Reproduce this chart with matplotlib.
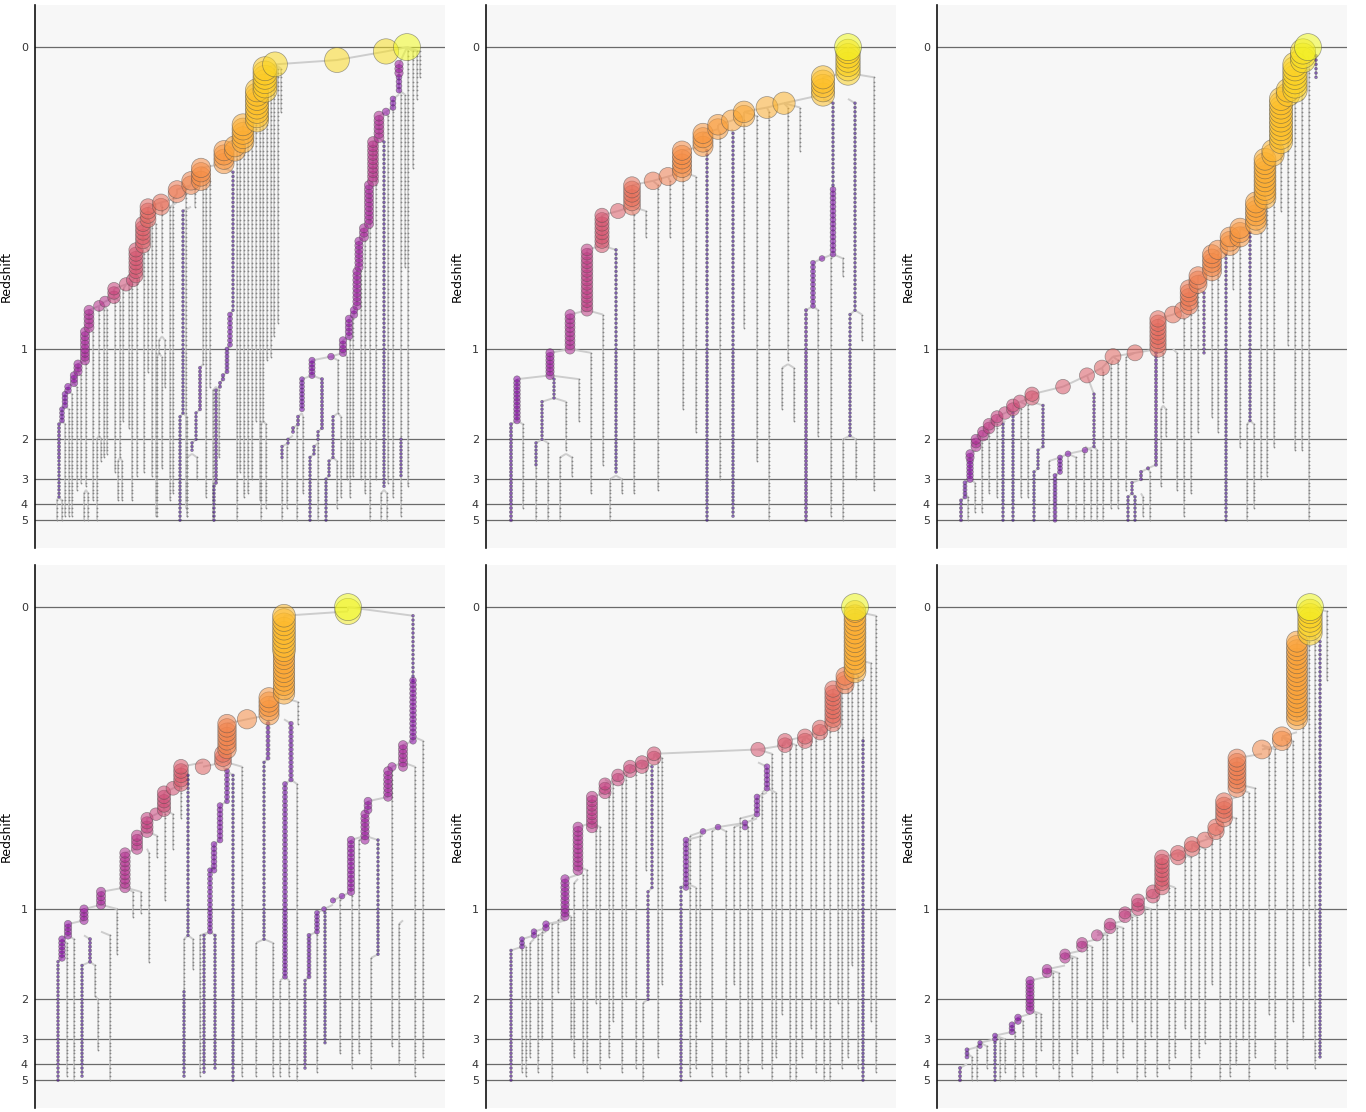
"""
Six halo merger trees: branches placed by lookback time, coloured and sized by mass.
"""
import numpy as np
import matplotlib
matplotlib.use('Agg')
import matplotlib.pyplot as plt
from matplotlib.collections import LineCollection

# ── redshift axis ──
z_ticks = [0, 1, 2, 3, 4, 5]
z_tick_lookback = [0.0, 8.03, 10.43, 11.49, 12.15, 12.58]   # Gyr
snaps_per_interval = [70, 24, 11, 7, 4]

# coloured branches: (x, top, bottom, log mass, x of descendant[, lookback of descendant])
# gray branches:     (x, top, bottom, x of descendant)

# ── panel 1 ──
p1_main = [
    (24, 11.0, 12.0, 9.85, 24), (24, 10.0, 10.9, 10.0, 27), (27, 9.6, 9.9, 10.2, 30),
    (30, 9.2, 9.5, 10.3, 33), (33, 9.05, 9.1, 10.4, 39), (39, 8.7, 8.95, 10.5, 43),
    (43, 8.4, 8.6, 10.6, 50), (50, 7.6, 8.3, 10.7, 54), (54, 7.0, 7.5, 10.8, 64),
    (64, 6.9, 6.9, 10.9, 70), (70, 6.8, 6.8, 10.9, 79), (79, 6.4, 6.7, 11.1, 91),
    (91, 6.3, 6.3, 11.2, 98), (98, 6.2, 6.2, 11.2, 101), (101, 5.4, 6.1, 11.3, 108),
    (108, 4.65, 5.3, 11.4, 113), (113, 4.3, 4.55, 11.5, 126), (126, 4.1, 4.2, 11.6, 142),
    (142, 3.75, 3.95, 11.7, 156), (156, 3.6, 3.65, 11.8, 166), (166, 3.2, 3.5, 11.9, 189),
    (189, 2.8, 3.1, 12.0, 200), (200, 2.6, 2.7, 12.1, 208), (208, 2.1, 2.5, 12.2, 222),
    (222, 1.2, 2.0, 12.35, 230), (230, 0.6, 1.1, 12.45, 240),
    (240, 0.43, 0.5, 12.55, 302, 0.3), (302, 0.3, 0.3, 12.55, 351, 0.17),
    (351, 0.17, 0.17, 12.6, 372, 0.0), (372, 0.0, 0.0, 13.0, None),
    (364, 0.43, 0.7, 10.6, 372, 0.0), (364, 0.8, 1.2, 10.3, 364), (358, 1.35, 1.65, 10.3, 364),
    (351, 1.75, 1.75, 10.5, 358), (344, 1.85, 2.45, 10.8, 351), (338, 2.55, 3.6, 10.9, 344),
    (334, 3.7, 4.75, 10.7, 338), (329, 4.85, 5.05, 10.7, 334), (324, 5.2, 5.85, 10.6, 329),
    (322, 5.95, 6.9, 10.6, 324), (319, 7.0, 7.1, 10.5, 322), (314, 7.2, 7.65, 10.5, 319),
    (308, 7.75, 8.1, 10.5, 314), (296, 8.2, 8.2, 10.4, 308), (277, 8.3, 8.75, 10.35, 296),
    (267, 8.85, 9.65, 10.2, 277), (263, 9.8, 10.0, 10.0, 267), (258, 10.15, 10.25, 10.0, 263),
    (253, 10.4, 10.5, 9.9, 258), (247, 10.6, 10.9, 9.9, 253),
    (287, 8.85, 10.1, 10.0, 277), (283, 10.25, 10.45, 9.9, 287), (279, 10.6, 10.85, 9.85, 283),
    (275, 10.95, 12.58, 9.8, 279), (298, 9.8, 10.95, 9.9, 303), (294, 11.05, 11.4, 9.85, 298),
    (291, 11.5, 12.58, 9.8, 294), (349, 2.55, 11.7, 9.8, 344), (366, 10.4, 11.4, 9.85, 366),
    (198, 3.3, 7.0, 9.85, 189), (195, 7.1, 7.9, 10.2, 198), (192, 8.0, 8.6, 10.1, 195),
    (188, 8.7, 8.8, 10.05, 192), (185, 8.9, 9.0, 10.0, 188), (181, 9.15, 11.55, 10.0, 185),
    (179, 11.65, 12.58, 9.85, 181), (148, 4.35, 9.7, 9.8, 156), (145, 9.85, 12.58, 9.8, 148),
    (165, 8.5, 9.6, 10.0, 168), (161, 9.75, 10.45, 9.9, 165), (157, 10.55, 10.75, 9.85, 161),
]
p1_gray = [
    (21.5, 12.1, 12.58, 24), (26.5, 12.1, 12.58, 24), (30, 10.0, 12.45, 27), (33.5, 9.6, 12.45, 30),
    (37, 9.2, 12.45, 33), (41.5, 9.0, 11.8, 39), (45.5, 8.75, 11.6, 43), (51, 8.45, 11.7, 50),
    (49, 11.85, 12.58, 51), (53, 11.85, 12.58, 51), (58, 7.6, 12.1, 54), (64, 7.05, 10.3, 64),
    (61.5, 10.45, 12.58, 64), (66.5, 10.45, 11.0, 64), (69, 7.0, 10.9, 70), (72.5, 6.95, 10.8, 70),
    (80, 6.8, 11.25, 79), (85, 6.8, 10.9, 79), (83, 11.05, 12.1, 85), (87, 11.05, 12.1, 85),
    (88.5, 6.45, 9.9, 91), (93.5, 6.35, 10.1, 98), (97, 6.3, 12.1, 98), (102, 6.2, 11.35, 101),
    (109, 5.45, 11.25, 108), (113, 5.35, 8.6, 108), (117, 4.7, 11.35, 113), (121, 4.65, 12.45, 113),
    (127, 4.3, 7.6, 126), (124, 7.75, 8.1, 127), (130, 7.75, 9.0, 127), (122, 8.25, 12.45, 124),
    (126.5, 8.25, 11.2, 124), (135, 4.3, 12.1, 142), (138.5, 4.05, 11.9, 142), (151.5, 3.8, 12.3, 156),
    (152, 9.85, 12.5, 148), (160, 3.7, 4.3, 156), (168, 3.6, 8.4, 166), (152, 10.9, 12.45, 157),
    (162, 10.9, 11.5, 157), (171.5, 3.5, 12.0, 166), (175, 3.55, 9.0, 166), (178, 9.15, 12.58, 181),
    (184, 9.15, 10.9, 181), (202, 2.8, 12.58, 200), (205, 2.75, 11.3, 208), (209, 2.6, 12.0, 208),
    (213, 2.1, 11.9, 208), (217, 2.05, 11.5, 222), (221, 2.05, 9.9, 222), (225, 1.9, 12.1, 222),
    (228, 1.2, 9.9, 230), (232, 1.15, 8.3, 230), (236, 1.1, 8.2, 240), (239, 0.6, 7.7, 240),
    (243, 0.55, 7.3, 240), (246, 0.55, 1.7, 240), (226, 10.05, 12.58, 228), (231, 10.05, 12.3, 228),
    (247, 11.0, 12.58, 247), (252, 10.6, 12.3, 253), (262, 10.15, 12.58, 263), (268, 9.8, 11.9, 267),
    (283, 10.55, 12.58, 283), (303, 8.3, 9.7, 296), (302, 11.05, 12.3, 298), (306, 9.8, 12.0, 303),
    (312, 8.2, 11.5, 308), (315, 7.8, 12.0, 314), (318, 7.2, 11.35, 319), (326, 5.95, 11.5, 324),
    (330, 5.2, 11.85, 329), (335, 3.85, 12.58, 334), (341, 2.55, 11.5, 344), (346, 11.85, 12.58, 349),
    (352, 11.85, 12.58, 349), (353, 1.85, 11.6, 351), (358, 1.75, 12.0, 358), (366, 1.3, 10.3, 364),
    (366, 11.5, 12.45, 366), (370, 1.3, 5.9, 364), (373, 0.1, 11.7, 372), (378, 0.1, 3.2, 372),
    (382, 0.1, 1.35, 372), (385, 0.1, 0.8, 372),
]

# ── panel 2 ──
p2_main = [
    (25, 10.0, 12.58, 10.0, 31), (31, 8.85, 9.95, 10.4, 64, 8.75), (64, 8.1, 8.75, 10.6, 84),
    (84, 7.1, 8.0, 10.8, 101), (101, 5.4, 7.0, 11.0, 116), (116, 4.5, 5.3, 11.3, 132),
    (132, 4.4, 4.4, 11.4, 146), (146, 3.7, 4.3, 11.6, 167), (167, 3.6, 3.6, 11.7, 182),
    (182, 3.47, 3.47, 11.75, 196), (196, 2.7, 3.35, 11.9, 217), (217, 2.3, 2.6, 12.0, 232),
    (232, 2.1, 2.2, 12.05, 246), (246, 1.95, 1.95, 12.1, 258), (258, 1.7, 1.85, 12.15, 281),
    (281, 1.57, 1.57, 12.2, 298), (298, 1.47, 1.47, 12.25, 337, 1.3), (337, 0.8, 1.3, 12.35, 362),
    (362, 0.1, 0.7, 12.5, 362), (362, 0.0, 0.0, 13.0, None),
    (347, 1.5, 3.7, 9.8, 337), (347, 3.8, 5.5, 10.3, 347), (336, 5.6, 5.6, 10.3, 347),
    (327, 5.7, 6.9, 10.2, 336), (320, 7.0, 12.58, 10.0, 327), (369, 1.5, 7.0, 9.8, 362),
    (364, 7.15, 10.3, 9.8, 369), (221, 2.8, 12.58, 9.8, 217), (247, 2.3, 12.45, 9.8, 246),
    (130, 5.4, 11.3, 9.8, 116), (68, 8.8, 9.3, 9.9, 64), (56, 9.4, 10.45, 9.9, 68),
    (50, 10.55, 11.1, 9.85, 56),
]
p2_gray = [
    (37, 10.0, 12.3, 31), (50, 11.2, 12.58, 50), (62, 10.55, 12.58, 56), (80, 9.4, 10.75, 68),
    (74, 10.9, 12.58, 80), (86, 10.9, 11.35, 80), (93, 8.85, 9.9, 64), (105, 8.1, 11.9, 84),
    (117, 7.1, 11.1, 101), (124, 11.45, 12.58, 130), (136, 11.45, 11.9, 130), (148, 4.5, 11.9, 146),
    (160, 4.4, 5.1, 146), (172, 3.7, 11.8, 167), (184, 3.6, 5.1, 182), (197, 3.45, 9.65, 196),
    (210, 3.45, 10.2, 196), (234, 2.3, 11.5, 232), (258, 2.0, 7.5, 258), (271, 1.8, 11.0, 258),
    (283, 1.7, 12.58, 281), (302, 1.57, 8.35, 298), (296, 8.5, 9.65, 302), (308, 8.5, 9.9, 302),
    (314, 1.6, 2.8, 298), (345, 5.6, 12.45, 347), (357, 5.6, 6.1, 347), (332, 7.0, 10.3, 327),
    (376, 7.15, 7.75, 369), (357, 10.45, 12.58, 364), (370, 10.45, 11.5, 364), (388, 0.8, 11.74, 362),
]

# ── panel 3 ──
p3_main = [
    (24, 12.1, 12.58, 10.0, 28), (28, 11.6, 12.0, 10.1, 33), (33, 11.0, 11.5, 10.4, 33),
    (33, 10.8, 10.9, 10.6, 39), (39, 10.4, 10.65, 10.8, 46), (46, 10.25, 10.3, 10.9, 52),
    (52, 10.0, 10.1, 11.0, 60), (60, 9.85, 9.9, 11.05, 68), (68, 9.7, 9.75, 11.1, 76),
    (76, 9.55, 9.6, 11.15, 83), (83, 9.45, 9.45, 11.2, 95), (95, 9.2, 9.3, 11.3, 126, 9.0),
    (126, 9.0, 9.0, 11.35, 150, 8.75), (150, 8.75, 8.75, 11.4, 165, 8.5),
    (165, 8.5, 8.5, 11.45, 176, 8.27), (176, 8.27, 8.27, 11.5, 198, 8.13),
    (198, 8.13, 8.13, 11.5, 221, 8.0), (221, 7.2, 8.0, 11.55, 236), (236, 7.1, 7.1, 11.6, 246),
    (246, 7.0, 7.0, 11.65, 252), (252, 6.45, 6.9, 11.7, 261), (261, 6.1, 6.35, 11.75, 275),
    (275, 5.5, 5.95, 11.85, 281), (281, 5.37, 5.4, 11.9, 293), (293, 5.1, 5.25, 11.95, 303),
    (303, 4.85, 5.0, 12.0, 319), (319, 4.1, 4.75, 12.1, 328), (328, 3.0, 4.0, 12.2, 336),
    (336, 2.7, 2.9, 12.25, 344), (344, 1.35, 2.55, 12.35, 351), (351, 1.2, 1.25, 12.4, 358),
    (358, 0.45, 1.1, 12.5, 366), (366, 0.12, 0.35, 12.6, 371), (371, 0.0, 0.0, 13.0, None),
    (379, 0.25, 0.8, 9.85, 371), (267, 6.5, 8.1, 9.9, 261), (219, 8.1, 11.1, 10.0, 221),
    (211, 11.2, 11.2, 10.0, 219), (204, 11.3, 11.5, 10.0, 211), (195, 11.6, 11.9, 9.95, 204),
    (191, 12.0, 12.58, 9.85, 195), (198, 12.0, 12.58, 9.8, 195),
    (157, 9.2, 10.6, 9.95, 150, 8.75), (148, 10.7, 10.7, 10.3, 157), (131, 10.85, 10.85, 10.3, 148),
    (123, 10.95, 11.25, 10.2, 131), (118, 11.35, 12.58, 10.1, 123), (106, 9.5, 10.6, 9.85, 95),
    (101, 10.7, 11.2, 9.85, 106), (97, 11.3, 12.58, 9.8, 101), (66, 10.0, 12.58, 9.8, 68),
    (76, 9.7, 12.58, 9.8, 76), (313, 4.9, 9.9, 9.8, 303), (289, 5.45, 12.58, 9.8, 281),
]
p3_gray = [
    (31, 12.0, 12.58, 28), (38, 11.6, 12.4, 33), (45, 10.45, 12.4, 39), (52, 10.25, 11.9, 46),
    (60, 10.0, 12.0, 52), (84, 9.65, 12.0, 83), (91, 9.5, 12.0, 83), (112, 11.0, 12.58, 123),
    (131, 11.0, 12.58, 131), (139, 10.9, 12.58, 131), (147, 10.8, 12.58, 148), (154, 10.75, 12.58, 148),
    (160, 10.7, 12.58, 157), (166, 8.6, 12.58, 165), (174, 8.4, 12.3, 176), (181, 8.35, 12.3, 176),
    (189, 8.2, 11.8, 198), (206, 12.0, 12.45, 204), (213, 11.3, 12.58, 211), (226, 8.1, 9.45, 221),
    (224, 9.6, 11.7, 226), (229, 9.6, 10.3, 226), (240, 8.1, 11.8, 236), (247, 7.2, 12.5, 246),
    (254, 7.0, 11.9, 252), (261, 6.45, 10.2, 252), (275, 6.05, 9.8, 275), (281, 5.5, 10.2, 281),
    (296, 5.3, 6.4, 293), (303, 5.1, 10.6, 303), (310, 10.0, 12.58, 313), (317, 10.0, 12.3, 313),
    (324, 4.9, 11.5, 319), (330, 4.1, 11.35, 328), (337, 3.1, 10.6, 336), (344, 2.7, 4.4, 344),
    (351, 1.3, 7.9, 351), (358, 1.2, 10.7, 358), (365, 1.15, 10.7, 358), (372, 0.3, 12.58, 371),
]

# ── panel 4 ──
p4_main = [
    (23, 9.45, 12.55, 9.95, 27), (27, 8.8, 9.35, 10.4, 33), (33, 8.4, 8.7, 10.5, 49),
    (49, 8.0, 8.3, 10.6, 66), (66, 7.6, 7.9, 10.7, 90), (90, 6.5, 7.5, 10.85, 102),
    (102, 6.1, 6.4, 10.95, 112), (112, 5.6, 6.0, 11.05, 121), (121, 5.47, 5.47, 11.1, 129),
    (129, 4.9, 5.35, 11.2, 138), (138, 4.8, 4.8, 11.25, 146), (146, 4.3, 4.7, 11.35, 168),
    (168, 4.24, 4.24, 11.45, 188), (188, 3.86, 4.15, 11.6, 192), (192, 3.1, 3.75, 11.8, 212),
    (212, 2.97, 2.97, 11.9, 234), (234, 2.45, 2.85, 12.0, 249), (249, 1.3, 2.35, 12.15, 249),
    (249, 0.2, 1.2, 12.3, 313, 0.1), (313, 0.1, 0.1, 12.7, 313), (313, 0.0, 0.0, 13.0, None),
    (378, 0.25, 1.9, 9.9, 313, 0.0), (378, 2.0, 3.55, 10.4, 378), (368, 3.65, 4.2, 10.7, 378),
    (357, 4.3, 4.3, 10.6, 368), (353, 4.4, 5.1, 10.65, 357), (333, 5.2, 5.35, 10.55, 353),
    (330, 5.45, 6.15, 10.6, 333), (316, 6.25, 7.6, 10.5, 330), (307, 7.72, 7.72, 10.3, 316),
    (298, 7.85, 7.85, 10.25, 307), (289, 8.0, 8.0, 10.2, 298), (282, 8.1, 8.6, 10.2, 289),
    (274, 8.7, 9.8, 10.1, 282), (270, 9.9, 12.25, 9.9, 274),
    (192, 4.35, 5.15, 10.2, 188), (185, 5.25, 6.2, 10.3, 192), (179, 6.3, 7.0, 10.3, 185),
    (175, 7.05, 8.6, 10.2, 179), (169, 8.7, 12.35, 9.85, 175), (180, 8.75, 12.25, 9.85, 175),
    (198, 4.45, 12.55, 9.8, 192), (153, 4.45, 8.7, 9.8, 146), (149, 10.2, 12.5, 9.8, 149),
    (233, 3.1, 4.05, 10.1, 234), (229, 4.1, 8.8, 9.8, 233), (256, 3.1, 4.6, 10.15, 249),
    (250, 4.65, 9.85, 10.2, 256), (55, 8.8, 9.4, 10.0, 49), (47, 9.5, 12.5, 9.85, 55),
    (343, 6.15, 9.2, 9.8, 330), (290, 8.15, 11.6, 9.8, 289),
]
p4_gray = [
    (32, 8.95, 12.45, 27), (39, 8.8, 12.55, 33), (60, 9.5, 10.3, 55), (63, 10.4, 11.8, 60),
    (75, 8.75, 12.55, 66), (82.5, 8.0, 9.25, 66), (98, 7.55, 8.2, 90), (106, 7.55, 8.1, 90),
    (114, 6.55, 9.4, 112), (122, 6.1, 6.7, 112), (130, 5.45, 7.8, 129), (138, 5.45, 6.4, 129),
    (146, 4.85, 5.6, 146), (149, 8.8, 10.1, 153), (158, 8.8, 9.6, 153), (165, 8.7, 12.45, 175),
    (207, 4.25, 12.45, 192), (221, 8.9, 12.45, 229), (238, 8.9, 12.45, 229), (262, 4.65, 12.55, 256),
    (263, 2.5, 3.05, 249), (245, 9.95, 12.5, 250), (254, 9.95, 12.5, 250), (305, 7.85, 11.9, 307),
    (317, 7.7, 12.3, 316), (324, 6.25, 11.9, 330), (336, 9.3, 12.3, 343), (357, 4.4, 11.7, 357),
    (364, 8.4, 12.2, 368), (380, 4.3, 12.45, 368), (388, 3.6, 12.0, 378), (282, 8.7, 12.4, 282),
]

# ── panel 5 ──
p5_main = [
    (25, 9.1, 12.55, 9.95, 36), (36, 8.8, 9.0, 10.2, 48), (48, 8.6, 8.7, 10.3, 60),
    (60, 8.4, 8.5, 10.4, 79), (79, 7.2, 8.2, 10.6, 92), (92, 5.9, 7.0, 10.8, 106),
    (106, 5.0, 5.8, 10.95, 119), (119, 4.7, 4.9, 11.05, 132), (132, 4.5, 4.6, 11.1, 144),
    (144, 4.3, 4.4, 11.15, 156), (156, 4.1, 4.2, 11.2, 168), (168, 3.9, 4.0, 11.25, 272, 3.75),
    (272, 3.75, 3.75, 11.3, 299), (299, 3.6, 3.65, 11.35, 319), (319, 3.43, 3.5, 11.4, 334),
    (334, 3.2, 3.3, 11.45, 347), (347, 2.2, 3.1, 11.55, 359), (359, 1.8, 2.1, 11.75, 369),
    (369, 0.1, 1.7, 12.2, 369), (369, 0.0, 0.0, 13.0, None),
    (281, 4.2, 4.85, 10.3, 272), (271, 5.0, 5.5, 10.3, 281), (259, 5.7, 5.8, 10.3, 271),
    (232, 5.9, 5.9, 10.3, 259), (217, 6.0, 6.0, 10.3, 232), (200, 6.2, 7.4, 10.3, 217),
    (195, 7.5, 12.55, 9.85, 200), (166, 4.3, 7.5, 9.9, 156), (162, 7.6, 10.4, 9.9, 166),
    (377, 3.6, 12.55, 9.8, 377),
]
p5_gray = [
    (36, 9.1, 12.4, 36), (40, 9.0, 12.5, 36), (44, 8.9, 12.0, 48), (52, 8.7, 12.4, 60),
    (56, 8.6, 11.5, 60), (66, 8.4, 12.55, 79), (72, 8.3, 10.2, 79), (85, 8.2, 11.5, 79),
    (88, 7.3, 12.0, 92), (97, 7.1, 12.2, 92), (101, 7.0, 12.4, 92), (110, 5.9, 10.5, 106),
    (114, 5.9, 12.3, 106), (123, 4.95, 12.0, 119), (127, 4.75, 11.0, 119), (136, 4.65, 12.4, 132),
    (140, 4.5, 10.3, 144), (150, 4.4, 12.3, 144), (157, 10.5, 12.55, 162), (160, 4.3, 7.0, 156),
    (172, 4.0, 12.0, 168), (176, 4.05, 10.0, 168), (204, 6.1, 12.5, 217), (210, 7.5, 12.3, 200),
    (214, 6.05, 11.0, 217), (226, 5.95, 12.5, 232), (240, 6.0, 12.5, 232), (248, 5.85, 10.0, 259),
    (254, 5.6, 12.55, 271), (262, 5.9, 12.4, 259), (266, 5.6, 11.5, 271), (276, 4.9, 12.3, 281),
    (286, 3.85, 12.55, 272), (290, 4.9, 12.0, 281), (296, 3.7, 10.8, 299), (304, 3.7, 12.55, 299),
    (310, 3.7, 12.55, 299), (316, 3.55, 12.0, 319), (325, 3.55, 11.2, 319), (330, 3.4, 12.4, 334),
    (338, 3.35, 12.55, 334), (344, 3.2, 12.55, 347), (352, 3.2, 10.5, 347), (356, 2.2, 12.3, 359),
    (362, 2.2, 12.0, 359), (366, 1.8, 9.5, 369), (372, 1.8, 12.3, 369), (377, 1.9, 3.5, 359),
    (385, 1.5, 11.0, 369), (390, 0.2, 12.4, 369),
]

# ── panel 6 ──
p6_main = [
    (23, 12.3, 12.55, 10.0, 30), (30, 11.8, 12.0, 10.1, 43), (43, 11.6, 11.65, 10.15, 58),
    (58, 11.4, 11.5, 10.2, 75), (75, 11.15, 11.25, 10.3, 81), (81, 10.9, 11.0, 10.4, 93),
    (93, 9.9, 10.7, 10.6, 110), (110, 9.6, 9.7, 10.75, 128), (128, 9.2, 9.3, 10.85, 145),
    (145, 8.95, 9.0, 10.9, 160), (160, 8.7, 8.75, 10.95, 173), (173, 8.4, 8.5, 11.0, 188),
    (188, 8.15, 8.25, 11.05, 201), (201, 7.85, 8.05, 11.15, 216), (216, 7.6, 7.65, 11.25, 225),
    (225, 6.7, 7.45, 11.35, 241), (241, 6.55, 6.6, 11.4, 255), (255, 6.35, 6.4, 11.45, 268),
    (268, 6.15, 6.2, 11.5, 279), (279, 5.9, 5.95, 11.55, 287), (287, 5.2, 5.6, 11.6, 300),
    (300, 4.0, 4.85, 11.75, 325), (325, 3.8, 3.8, 11.85, 345), (345, 3.4, 3.5, 11.9, 360),
    (360, 0.9, 3.0, 12.1, 373), (373, 0.1, 0.7, 12.5, 373), (373, 0.0, 0.0, 13.0, None),
    (383, 0.9, 12.0, 9.8, 373), (58, 11.6, 12.55, 9.85, 58),
]
p6_gray = [
    (35, 12.0, 12.55, 30), (40, 11.7, 12.55, 43), (50, 11.7, 12.3, 43), (63, 11.5, 12.55, 58),
    (68, 11.5, 12.4, 58), (78, 11.3, 12.55, 75), (86, 11.0, 12.5, 81), (99, 10.8, 12.5, 93),
    (104, 10.8, 11.8, 93), (116, 9.7, 12.3, 110), (122, 9.7, 12.55, 110), (135, 9.3, 12.5, 128),
    (140, 9.3, 11.9, 128), (150, 9.0, 11.5, 145), (155, 9.0, 12.55, 145), (166, 8.75, 12.2, 160),
    (170, 8.75, 11.2, 160), (180, 8.5, 12.4, 173), (186, 8.5, 12.0, 173), (195, 8.25, 11.0, 188),
    (200, 8.25, 12.55, 188), (208, 8.0, 12.5, 201), (214, 8.05, 11.4, 201), (220, 7.7, 12.5, 216),
    (232, 7.5, 12.3, 225), (238, 7.5, 12.0, 225), (248, 6.6, 11.2, 241), (254, 6.6, 12.55, 241),
    (262, 6.4, 12.0, 255), (268, 6.4, 11.6, 255), (275, 6.2, 10.0, 268), (283, 6.0, 12.55, 279),
    (293, 5.6, 12.5, 287), (299, 5.6, 12.2, 287), (306, 4.9, 11.5, 300), (312, 4.9, 12.55, 300),
    (318, 4.85, 12.0, 300), (332, 3.8, 10.8, 325), (338, 3.8, 12.3, 325), (350, 3.5, 12.3, 345),
    (356, 3.5, 11.0, 345), (366, 3.0, 11.5, 360), (372, 0.8, 9.5, 373), (378, 0.75, 12.3, 373),
    (390, 0.1, 2.0, 373),
]

panels = [(p1_main, p1_gray), (p2_main, p2_gray), (p3_main, p3_gray),
          (p4_main, p4_gray), (p5_main, p5_gray), (p6_main, p6_gray)]

# snapshot grid on the lookback axis
snaps = [0.0]
for i, n in enumerate(snaps_per_interval):
    snaps += list(np.linspace(z_tick_lookback[i], z_tick_lookback[i + 1], n + 1)[1:])
snaps = np.array(snaps)


def k_of(t):
    return int(np.argmin(np.abs(snaps - t)))


def mass_frac(lm):
    return np.clip((lm - 9.5) / 3.3, 0, 1)


def draw_tree(ax, main, gray):
    lines = []
    gx, gy = [], []
    cx, cy, cm = [], [], []
    for x, t0, t1, xd in gray:
        k0, k1 = k_of(t0), k_of(t1)
        ts = snaps[k0:k1 + 1]
        lines.append([(x, ts[0]), (x, ts[-1])])
        lines.append([(x, ts[0]), (xd, snaps[max(k0 - 1, 0)])])
        gx += [x] * len(ts)
        gy += list(ts)
    for row in main:
        x, t0, t1, lm, xd = row[:5]
        td = row[5] if len(row) > 5 else None
        k0, k1 = k_of(t0), k_of(t1)
        ts = snaps[k0:k1 + 1]
        if len(ts) > 1:
            lines.append([(x, ts[0]), (x, ts[-1])])
        if xd is not None:
            tt = snaps[k_of(td)] if td is not None else snaps[max(k0 - 1, 0)]
            lines.append([(x, ts[0]), (xd, tt)])
        cx += [x] * len(ts)
        cy += list(ts)
        cm += [lm] * len(ts)

    ax.add_collection(LineCollection(lines, colors='#cdcdcd', linewidths=1.4, zorder=2))
    ax.scatter(gx, gy, s=1.6, c='#858585', linewidths=0, zorder=3)

    cx, cy, cm = np.array(cx), np.array(cy), np.array(cm)
    order = np.argsort(-cy, kind='stable')
    frac = mass_frac(cm[order])
    diam = np.maximum(2.8, 28 * frac - 1) * 0.72
    ax.scatter(cx[order], cy[order], s=diam ** 2, c=plt.cm.plasma(frac), alpha=0.55,
               edgecolors=(0.3, 0.3, 0.3, 0.35), linewidths=0.5, zorder=4)


fig = plt.figure(figsize=(13.66, 11.12), dpi=100)
lefts = [35, 486, 937]
tops = [5, 565]
for i, (main, gray) in enumerate(panels):
    col, row = i % 3, i // 3
    ax = fig.add_axes([lefts[col] / 1366, 1 - (tops[row] + 543) / 1112, 410 / 1366, 543 / 1112])
    ax.set_facecolor('#f7f7f7')
    for t in z_tick_lookback:
        ax.axhline(t, color='#6a6a6a', lw=0.9, zorder=1)
    draw_tree(ax, main, gray)
    ax.set_xlim(0, 410)
    ax.set_ylim(13.32, -1.12)
    ax.set_yticks(z_tick_lookback)
    ax.set_yticklabels([str(z) for z in z_ticks])
    ax.set_xticks([])
    ax.tick_params(axis='y', length=0, pad=5, labelsize=8, labelcolor='#333333')
    for side in ['top', 'right', 'bottom']:
        ax.spines[side].set_visible(False)
    ax.spines['left'].set_color('#111111')
    ax.spines['left'].set_linewidth(1.2)
    ax.set_ylabel('Redshift', fontsize=9)
    ax.yaxis.set_label_coords(-0.055, 0.5)

plt.savefig('out.png', dpi=100)
plt.close()
